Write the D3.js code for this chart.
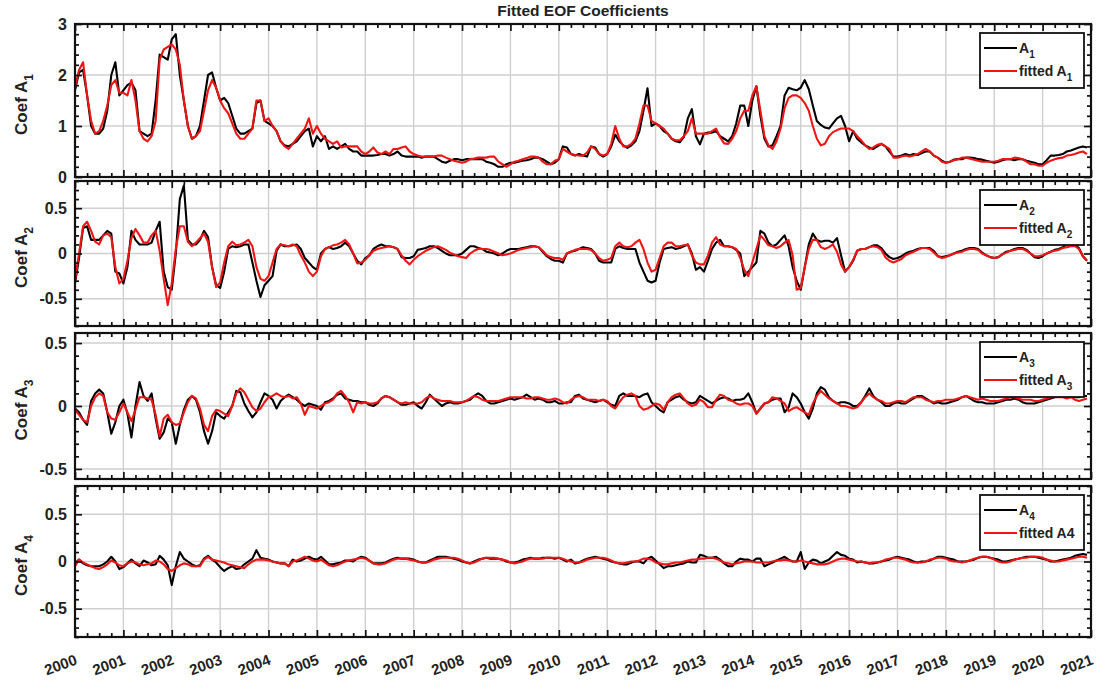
<!DOCTYPE html>
<html>
<head>
<meta charset="utf-8">
<script src="https://cdn.jsdelivr.net/npm/d3@7"></script>
<style>
  body { margin: 0; background: #fff; }
  text { font-family: "Liberation Sans", Arial, sans-serif; font-weight: bold; fill: #222; }
</style>
</head>
<body>
<svg id="chart" width="1101" height="682"></svg>
<script>
// monthly series, Jan 2000 .. Dec 2020
var startYear = 2000, endYear = 2021;
var yearLabels = d3.range(2000, 2022).map(String);

var a1 = [
  1.7, 2.05, 2.1, 1.6, 1.0, 0.85, 0.85, 0.95, 1.3, 2.0, 2.25, 1.6,
  1.7, 1.8, 1.85, 1.7, 0.9, 0.85, 0.8, 0.85, 1.5, 2.4, 2.35, 2.3,
  2.7, 2.8, 2.0, 1.5, 1.0, 0.75, 0.8, 1.0, 1.5, 2.0, 2.05, 1.75,
  1.5, 1.55, 1.45, 1.2, 0.95, 0.85, 0.85, 0.9, 0.95, 1.45, 1.5, 1.1,
  1.05, 1.0, 0.9, 0.7, 0.62, 0.6, 0.65, 0.7, 0.8, 0.9, 0.95, 0.6,
  0.8, 0.7, 0.8, 0.55, 0.6, 0.55, 0.6, 0.65, 0.55, 0.5, 0.5, 0.42,
  0.42, 0.42, 0.42, 0.43, 0.45, 0.45, 0.42, 0.45, 0.5, 0.42, 0.4, 0.4,
  0.4, 0.4, 0.38, 0.4, 0.4, 0.4, 0.35, 0.3, 0.28, 0.32, 0.35, 0.35,
  0.33, 0.35, 0.35, 0.35, 0.35, 0.35, 0.3, 0.28, 0.25, 0.2, 0.2, 0.25,
  0.28, 0.28, 0.3, 0.32, 0.33, 0.35, 0.38, 0.38, 0.35, 0.3, 0.25, 0.28,
  0.35, 0.6, 0.58, 0.45, 0.42, 0.45, 0.42, 0.4, 0.6, 0.58, 0.45, 0.4,
  0.45, 0.6, 0.83, 0.7, 0.62, 0.57, 0.62, 0.7, 0.9, 1.3, 1.74, 1.0,
  1.05, 1.0, 0.9, 0.85, 0.75, 0.7, 0.68, 0.78, 1.15, 1.33, 0.8, 0.64,
  0.85, 0.87, 0.87, 0.9, 0.8, 0.75, 0.7, 0.8, 1.05, 1.4, 1.4, 1.0,
  1.5, 1.78, 1.2, 0.75, 0.6, 0.62, 0.8, 1.0, 1.6, 1.75, 1.72, 1.7,
  1.75, 1.9, 1.72, 1.4, 1.1, 1.02, 0.97, 0.95, 1.05, 1.15, 1.2, 1.0,
  0.7, 0.9, 0.75, 0.68, 0.62, 0.58, 0.55, 0.6, 0.65, 0.6, 0.5, 0.4,
  0.4, 0.42, 0.45, 0.42, 0.45, 0.43, 0.47, 0.5, 0.5, 0.42, 0.38, 0.32,
  0.28, 0.3, 0.34, 0.35, 0.35, 0.38, 0.38, 0.37, 0.35, 0.34, 0.32, 0.3,
  0.28, 0.3, 0.33, 0.35, 0.35, 0.33, 0.35, 0.35, 0.32, 0.3, 0.28, 0.25,
  0.25, 0.33, 0.42, 0.42, 0.43, 0.45, 0.5, 0.52, 0.55, 0.58, 0.6, 0.58
];
var fitA1 = [
  1.75, 2.1, 2.25, 1.6, 1.1, 0.85, 0.9, 1.1, 1.4, 1.8, 1.9, 1.65,
  1.65, 1.6, 1.9, 1.5, 0.9, 0.75, 0.7, 0.8, 1.1, 2.3, 2.5, 2.55,
  2.6, 2.5, 2.2, 1.5, 1.0, 0.75, 0.8, 0.9, 1.3, 1.7, 1.9, 1.75,
  1.5, 1.35, 1.25, 1.05, 0.85, 0.75, 0.75, 0.85, 0.95, 1.5, 1.5, 1.1,
  1.15, 1.0, 0.9, 0.7, 0.6, 0.55, 0.65, 0.75, 0.85, 0.95, 1.15, 0.85,
  1.0, 0.85, 0.75, 0.7, 0.65, 0.7, 0.58, 0.6, 0.6, 0.6, 0.6, 0.5,
  0.45, 0.5, 0.58, 0.48, 0.45, 0.5, 0.45, 0.55, 0.55, 0.58, 0.6, 0.5,
  0.45, 0.42, 0.4, 0.4, 0.4, 0.4, 0.42, 0.42, 0.38, 0.35, 0.32, 0.3,
  0.28, 0.3, 0.35, 0.36, 0.38, 0.38, 0.38, 0.4, 0.4, 0.3, 0.25, 0.2,
  0.25, 0.3, 0.32, 0.35, 0.37, 0.4, 0.4, 0.38, 0.3, 0.25, 0.25, 0.32,
  0.35, 0.55, 0.5, 0.45, 0.43, 0.42, 0.42, 0.48, 0.6, 0.55, 0.45, 0.42,
  0.45, 0.65, 1.0, 0.75, 0.6, 0.6, 0.65, 0.75, 1.05, 1.4, 1.4, 1.1,
  1.05, 1.0, 0.95, 0.85, 0.75, 0.72, 0.72, 0.8, 0.9, 1.15, 0.85, 0.85,
  0.85, 0.85, 0.9, 0.95, 0.78, 0.66, 0.65, 0.75, 0.9, 1.15, 1.3, 1.3,
  1.6, 1.78, 1.3, 0.8, 0.62, 0.55, 0.7, 0.95, 1.35, 1.55, 1.6, 1.6,
  1.55, 1.45, 1.3, 1.0, 0.75, 0.62, 0.65, 0.8, 0.88, 0.92, 0.95, 0.95,
  0.95, 0.9, 0.8, 0.72, 0.62, 0.55, 0.58, 0.63, 0.65, 0.6, 0.55, 0.38,
  0.38, 0.4, 0.42, 0.4, 0.42, 0.45, 0.5, 0.55, 0.5, 0.42, 0.38, 0.3,
  0.28, 0.3, 0.33, 0.35, 0.38, 0.38, 0.36, 0.34, 0.32, 0.3, 0.3, 0.3,
  0.3, 0.32, 0.35, 0.35, 0.35, 0.38, 0.37, 0.35, 0.3, 0.25, 0.25, 0.22,
  0.22, 0.28, 0.32, 0.35, 0.37, 0.38, 0.42, 0.43, 0.45, 0.48, 0.5, 0.45
];

var a2 = [
  -0.33, -0.05, 0.28, 0.3, 0.15, 0.15, 0.15, 0.2, 0.25, 0.22, -0.2, -0.22,
  -0.33, -0.15, 0.25, 0.15, 0.1, 0.1, 0.1, 0.12, 0.25, 0.35, -0.2, -0.37,
  -0.4, 0.0, 0.6, 0.75, 0.15, 0.1, 0.1, 0.15, 0.25, 0.18, -0.15, -0.35,
  -0.38, -0.2, 0.05, 0.08, 0.07, 0.08, 0.1, 0.1, -0.1, -0.3, -0.48, -0.35,
  -0.3, -0.25, 0.03, 0.1, 0.08, 0.08, 0.09, 0.1, 0.05, -0.05, -0.1, -0.15,
  -0.18, 0.0, 0.05, 0.07, 0.05, 0.06, 0.08, 0.12, 0.08, 0.0, -0.08, -0.12,
  -0.05, -0.02, 0.05, 0.08, 0.1, 0.08, 0.08, 0.07, 0.05, -0.04, -0.05, -0.05,
  -0.03, 0.04, 0.05, 0.06, 0.08, 0.08, 0.06, 0.03, 0.0, -0.02, -0.02, -0.02,
  0.0, 0.04, 0.08, 0.08, 0.06, 0.05, 0.02, 0.01, 0.0, -0.02, 0.0, 0.03,
  0.05, 0.05, 0.05, 0.06, 0.07, 0.08, 0.08, 0.07, 0.02, -0.03, -0.06, -0.08,
  -0.08, -0.1, 0.0, 0.02, 0.03, 0.05, 0.07, 0.06, 0.05, 0.0, -0.08, -0.1,
  -0.1, -0.1, 0.05, 0.08, 0.06, 0.05, 0.05, 0.05, -0.1, -0.2, -0.3, -0.32,
  -0.3, -0.1, 0.05, 0.06, 0.07, 0.05, 0.06, 0.08, 0.1, 0.0, -0.18, -0.15,
  -0.2, -0.08, 0.05, 0.12, 0.15, 0.08, 0.08, 0.07, 0.04, 0.0, -0.25, -0.2,
  -0.15, -0.1, 0.25, 0.22, 0.12, 0.08, 0.1, 0.15, 0.2, 0.08, -0.15, -0.3,
  -0.4, -0.15, 0.1, 0.22, 0.15, 0.13, 0.14, 0.14, 0.12, 0.17, -0.02, -0.2,
  -0.15, -0.08, 0.03, 0.05, 0.05, 0.07, 0.09, 0.09, 0.06, 0.0, -0.04, -0.06,
  -0.05, -0.03, 0.0, 0.02, 0.03, 0.05, 0.06, 0.06, 0.06, 0.03, -0.03, -0.04,
  -0.03, -0.02, 0.0, 0.02, 0.03, 0.05, 0.06, 0.06, 0.05, 0.01, -0.02, -0.04,
  -0.05, -0.04, -0.01, 0.02, 0.03, 0.05, 0.06, 0.06, 0.04, 0.0, -0.04, -0.05,
  -0.03, 0.0, 0.02, 0.04, 0.05, 0.07, 0.1, 0.12, 0.1, 0.06, -0.03, -0.08
];
var fitA2 = [
  -0.3, 0.0, 0.3, 0.35, 0.25, 0.13, 0.1, 0.2, 0.22, 0.18, -0.15, -0.33,
  -0.28, -0.08, 0.17, 0.27, 0.2, 0.12, 0.12, 0.2, 0.25, 0.03, -0.28, -0.57,
  -0.33, 0.05, 0.3, 0.3, 0.13, 0.08, 0.12, 0.17, 0.22, 0.13, -0.15, -0.37,
  -0.32, -0.1, 0.08, 0.13, 0.09, 0.1, 0.12, 0.15, 0.08, -0.15, -0.28, -0.3,
  -0.25, -0.1, 0.05, 0.1, 0.09, 0.08, 0.1, 0.08, -0.02, -0.1, -0.2, -0.25,
  -0.2, -0.03, 0.05, 0.07, 0.09, 0.1, 0.12, 0.15, 0.1, 0.0, -0.11, -0.1,
  -0.07, -0.02, 0.03, 0.05, 0.06, 0.07, 0.08, 0.07, 0.05, -0.02, -0.08, -0.12,
  -0.07, -0.03, 0.0, 0.03, 0.05, 0.07, 0.08, 0.06, 0.04, 0.01, -0.01, -0.03,
  -0.04, -0.05, 0.0, 0.03, 0.05, 0.05, 0.05, 0.04, 0.02, 0.0, -0.02, -0.01,
  0.0, 0.02, 0.04, 0.05, 0.06, 0.07, 0.08, 0.07, 0.03, -0.02, -0.04, -0.05,
  -0.05, -0.07, 0.0, 0.02, 0.04, 0.05, 0.05, 0.05, 0.04, 0.0, -0.05, -0.08,
  -0.07, -0.05, 0.08, 0.12, 0.08, 0.07, 0.08, 0.12, 0.15, 0.05, -0.1, -0.2,
  -0.18, -0.05, 0.08, 0.12, 0.12, 0.08, 0.08, 0.09, 0.1, -0.02, -0.1, -0.12,
  -0.12, -0.02, 0.12, 0.18, 0.1, 0.08, 0.08, 0.07, 0.05, -0.05, -0.18, -0.25,
  -0.1, 0.05, 0.2, 0.15, 0.09, 0.08, 0.06, 0.08, 0.12, 0.15, -0.02, -0.4,
  -0.38, -0.15, 0.05, 0.15, 0.15, 0.07, 0.05, 0.07, 0.1, 0.02, -0.12, -0.2,
  -0.15, -0.07, 0.03, 0.05, 0.05, 0.07, 0.08, 0.07, 0.04, -0.04, -0.08, -0.1,
  -0.08, -0.06, -0.02, 0.0, 0.02, 0.04, 0.06, 0.06, 0.05, 0.01, -0.03, -0.05,
  -0.04, -0.02, 0.0, 0.01, 0.02, 0.04, 0.05, 0.05, 0.04, 0.0, -0.02, -0.04,
  -0.05, -0.04, -0.01, 0.01, 0.03, 0.04, 0.05, 0.05, 0.03, 0.0, -0.03, -0.03,
  -0.02, 0.0, 0.02, 0.03, 0.04, 0.06, 0.07, 0.08, 0.08, 0.05, -0.03, -0.08
];

var a3 = [
  -0.02, -0.05, -0.11, -0.15, 0.04, 0.1, 0.13, 0.1, -0.05, -0.22, -0.13, 0.0,
  0.05, -0.06, -0.25, 0.0, 0.19, 0.08, 0.04, 0.1, -0.1, -0.26, -0.21, -0.1,
  -0.13, -0.3, -0.15, -0.03, 0.05, 0.08, 0.05, -0.05, -0.2, -0.3, -0.2, -0.05,
  -0.08, -0.1, -0.05, 0.0, 0.12, 0.11, 0.02, -0.04, -0.09, -0.05, 0.03, 0.1,
  0.08, 0.05, -0.02, 0.04, 0.07, 0.09, 0.07, 0.05, 0.02, 0.0, 0.02, 0.01,
  0.0, -0.03, 0.03, 0.04, 0.06, 0.09, 0.1, 0.06, 0.05, 0.04, 0.04, 0.03,
  0.03, 0.01, 0.0, 0.02, 0.06, 0.08, 0.07, 0.05, 0.03, 0.01, 0.01, 0.02,
  0.03, 0.0, -0.02, 0.03, 0.09, 0.06, 0.03, 0.0, 0.02, 0.03, 0.02, 0.02,
  0.03, 0.04, 0.05, 0.08, 0.1, 0.08, 0.04, 0.02, 0.02, 0.03, 0.04, 0.05,
  0.06, 0.05, 0.06, 0.07, 0.09, 0.07, 0.05, 0.06, 0.05, 0.03, 0.03, 0.04,
  0.02, 0.02, 0.03, 0.03, 0.08, 0.09, 0.06, 0.05, 0.04, 0.03, 0.04, 0.05,
  0.03, 0.01, 0.0, 0.08, 0.1, 0.08, 0.08, 0.08, 0.07, 0.09, 0.1, 0.03,
  0.0, -0.03, -0.05, 0.03, 0.05, 0.07, 0.08, 0.05, 0.03, 0.02, 0.03, 0.08,
  0.06, 0.04, 0.02, 0.04, 0.06, 0.07, 0.06, 0.04, 0.05, 0.05, 0.06, 0.1,
  0.03, -0.06, -0.02, 0.02, 0.03, 0.05, 0.06, 0.06, -0.05, -0.01, 0.1, 0.07,
  0.02, -0.05, -0.1, -0.02, 0.1, 0.15, 0.13, 0.07, 0.04, 0.02, 0.03, 0.03,
  0.02, 0.0, 0.0, 0.03, 0.08, 0.14, 0.08, 0.05, 0.03, 0.0, 0.0, 0.02,
  0.03, 0.02, 0.02, 0.04, 0.06, 0.08, 0.08, 0.06, 0.04, 0.02, 0.03, 0.02,
  0.02, 0.03, 0.04, 0.05, 0.07, 0.08, 0.06, 0.04, 0.03, 0.03, 0.02, 0.02,
  0.02, 0.03, 0.04, 0.05, 0.05, 0.06, 0.05, 0.03, 0.02, 0.02, 0.02, 0.03,
  0.04, 0.05, 0.06, 0.07, 0.08, 0.08, 0.1, 0.09, 0.07, 0.07, 0.08, 0.08
];
var fitA3 = [
  -0.03, -0.07, -0.11, -0.13, 0.0, 0.07, 0.1, 0.08, -0.05, -0.1, -0.11, -0.05,
  0.02, -0.05, -0.12, -0.03, 0.07, 0.07, 0.06, 0.05, -0.07, -0.24, -0.1, -0.07,
  -0.13, -0.15, -0.14, -0.05, 0.03, 0.08, 0.06, -0.02, -0.15, -0.2, -0.08, -0.03,
  -0.04, -0.06, -0.08, 0.0, 0.1, 0.14, 0.11, 0.05, -0.01, -0.04, -0.02, 0.03,
  0.07, 0.08, 0.1, 0.08, 0.07, 0.08, 0.06, 0.07, 0.02, -0.07, 0.0, -0.01,
  -0.02, 0.0, 0.02, 0.03, 0.05, 0.1, 0.12, 0.08, 0.03, -0.05, 0.03, 0.02,
  0.03, 0.02, 0.02, 0.03, 0.06, 0.08, 0.07, 0.05, 0.03, 0.02, 0.03, 0.02,
  0.02, 0.02, 0.03, 0.06, 0.08, 0.06, 0.05, 0.04, 0.04, 0.04, 0.03, 0.03,
  0.03, 0.04, 0.06, 0.08, 0.07, 0.05, 0.04, 0.04, 0.04, 0.04, 0.05, 0.06,
  0.07, 0.07, 0.07, 0.07, 0.06, 0.06, 0.07, 0.07, 0.06, 0.05, 0.05, 0.06,
  0.05, 0.03, 0.02, 0.05, 0.07, 0.08, 0.07, 0.05, 0.05, 0.05, 0.04, 0.05,
  0.04, 0.0, -0.02, 0.03, 0.07, 0.09, 0.1, 0.08, 0.0, -0.03, -0.02, 0.0,
  0.02, 0.01, -0.03, 0.03, 0.07, 0.09, 0.1, 0.06, 0.02, 0.0, 0.01, 0.05,
  0.03, -0.01, -0.01, 0.05, 0.09, 0.08, 0.05, 0.04, 0.02, 0.01, 0.02, 0.02,
  0.0, -0.06, -0.02, 0.02, 0.03, 0.07, 0.06, 0.04, 0.02, -0.04, -0.02, -0.01,
  -0.03, -0.05, -0.07, 0.02, 0.08, 0.12, 0.09, 0.06, 0.04, 0.02, 0.0, 0.0,
  -0.01, -0.02, -0.01, 0.03, 0.07, 0.1, 0.07, 0.05, 0.04, 0.02, 0.02, 0.03,
  0.04, 0.04, 0.03, 0.05, 0.07, 0.07, 0.07, 0.05, 0.04, 0.03, 0.04, 0.04,
  0.05, 0.05, 0.05, 0.06, 0.07, 0.08, 0.07, 0.06, 0.05, 0.06, 0.05, 0.04,
  0.04, 0.04, 0.05, 0.06, 0.07, 0.07, 0.06, 0.05, 0.05, 0.05, 0.04, 0.04,
  0.05, 0.06, 0.07, 0.07, 0.07, 0.07, 0.06, 0.07, 0.05, 0.04, 0.05, 0.06
];

var a4 = [
  -0.02, 0.02, -0.02, -0.04, -0.05, -0.05, -0.05, -0.03, 0.0, 0.05, 0.0, -0.08,
  -0.06, -0.02, 0.02, -0.02, -0.05, 0.01, -0.01, -0.04, -0.03, 0.06, 0.02, -0.04,
  -0.25, -0.05, 0.1, 0.03, 0.0, -0.03, -0.05, -0.04, 0.03, 0.06, 0.02, -0.01,
  -0.06, -0.1, -0.07, -0.05, -0.08, -0.07, -0.03, 0.0, 0.03, 0.12, 0.04, 0.03,
  0.02, 0.0, -0.01, -0.02, -0.02, -0.05, 0.02, 0.0, 0.01, 0.03, 0.05, 0.03,
  0.02, 0.05, 0.01, -0.03, -0.03, -0.02, -0.01, 0.01, 0.01, 0.0, 0.03, 0.05,
  0.04, 0.01, -0.02, -0.02, -0.02, -0.01, 0.01, 0.03, 0.04, 0.03, 0.03, 0.03,
  0.02, 0.0, -0.01, -0.01, 0.01, 0.03, 0.05, 0.05, 0.05, 0.04, 0.03, 0.02,
  0.0, -0.01, -0.02, 0.0, 0.02, 0.03, 0.04, 0.03, 0.03, 0.03, 0.02, 0.0,
  -0.01, -0.01, 0.0, 0.02, 0.03, 0.04, 0.03, 0.03, 0.04, 0.04, 0.04, 0.03,
  0.04, 0.02, 0.0, 0.02, -0.02, -0.01, 0.01, 0.03, 0.04, 0.05, 0.04, 0.03,
  0.02, 0.0, -0.01, -0.02, -0.03, -0.03, -0.01, 0.0, 0.0, -0.02, 0.03, 0.05,
  0.01, -0.03, -0.07, -0.05, -0.05, -0.04, -0.03, -0.02, 0.0, -0.01, -0.01, 0.07,
  0.06, 0.04, 0.04, 0.05, 0.02, -0.02, -0.05, -0.05, 0.0, 0.03, 0.02, 0.02,
  0.0, 0.03, 0.03, -0.05, -0.03, -0.01, 0.01, 0.03, 0.05, 0.02, 0.0, 0.0,
  0.1, -0.08, -0.01, 0.02, 0.01, -0.02, 0.0, 0.02, 0.06, 0.1, 0.07, 0.06,
  0.03, 0.02, -0.01, 0.0, -0.01, -0.02, -0.02, -0.01, 0.0, 0.01, 0.02, 0.04,
  0.05, 0.04, 0.03, 0.02, 0.0, -0.01, 0.0, 0.0, 0.01, 0.03, 0.05, 0.05,
  0.04, 0.03, 0.02, 0.0, 0.0, 0.0, 0.01, 0.02, 0.04, 0.05, 0.05, 0.04,
  0.03, 0.02, 0.0, 0.0, 0.01, 0.02, 0.03, 0.04, 0.05, 0.05, 0.05, 0.04,
  0.03, 0.02, 0.0, 0.0, 0.01, 0.02, 0.03, 0.04, 0.06, 0.07, 0.08, 0.07
];
var fitA4 = [
  -0.05, 0.02, -0.01, -0.03, -0.05, -0.07, -0.08, -0.06, -0.03, 0.01, -0.01, -0.04,
  -0.05, -0.02, 0.0, -0.01, -0.03, -0.04, -0.03, -0.02, 0.01, 0.0, -0.03, -0.08,
  -0.1, -0.07, -0.04, -0.02, -0.03, -0.05, -0.05, -0.05, 0.02, 0.05, 0.02, 0.01,
  0.0, -0.01, -0.03, -0.04, -0.05, -0.06, -0.07, -0.03, 0.0, 0.02, 0.02, 0.02,
  0.01, 0.0, -0.01, -0.02, -0.02, -0.05, 0.0, 0.01, 0.03, 0.05, 0.03, 0.01,
  0.0, 0.02, -0.01, -0.04, -0.05, -0.04, -0.02, 0.0, 0.01, 0.02, 0.03, 0.04,
  0.03, 0.01, -0.02, -0.03, -0.03, -0.02, 0.0, 0.02, 0.03, 0.03, 0.03, 0.02,
  0.01, 0.0, -0.01, -0.01, 0.0, 0.02, 0.03, 0.04, 0.04, 0.04, 0.04, 0.03,
  0.01, -0.01, -0.02, -0.01, 0.01, 0.03, 0.04, 0.04, 0.04, 0.03, 0.02, 0.01,
  -0.01, -0.02, -0.01, 0.0, 0.02, 0.03, 0.03, 0.03, 0.03, 0.04, 0.04, 0.04,
  0.04, 0.03, 0.01, 0.0, -0.01, -0.01, 0.0, 0.02, 0.03, 0.04, 0.04, 0.04,
  0.03, 0.01, -0.01, -0.02, -0.02, -0.01, 0.0, 0.0, 0.01, 0.03, 0.03, 0.02,
  -0.01, -0.02, -0.03, -0.03, -0.02, -0.01, -0.01, 0.0, 0.01, 0.02, 0.02, 0.03,
  0.03, 0.04, 0.04, 0.03, 0.01, -0.01, -0.02, -0.03, -0.02, -0.01, 0.0, 0.0,
  0.0, -0.01, -0.01, -0.01, -0.01, 0.0, 0.01, 0.01, 0.02, 0.01, 0.0, 0.0,
  0.01, 0.0, -0.01, -0.02, -0.03, -0.03, -0.03, -0.02, 0.0, 0.02, 0.03, 0.03,
  0.02, 0.01, 0.0, 0.0, -0.01, -0.02, -0.01, -0.01, 0.0, 0.02, 0.03, 0.04,
  0.04, 0.03, 0.02, 0.0, -0.01, -0.01, -0.01, 0.0, 0.02, 0.03, 0.04, 0.04,
  0.03, 0.01, 0.0, 0.0, -0.01, 0.0, 0.01, 0.03, 0.04, 0.05, 0.05, 0.04,
  0.02, 0.0, -0.01, -0.01, 0.0, 0.02, 0.03, 0.04, 0.04, 0.05, 0.05, 0.05,
  0.04, 0.02, 0.01, 0.0, 0.0, 0.01, 0.02, 0.03, 0.04, 0.05, 0.05, 0.04
];

var panels = [
  { obs: a1, fit: fitA1, n: "1", fitSub: true,  top: 24,  bottom: 177, domain: [0, 3],        major: [0, 1, 2, 3],    minorStep: 0.2 },
  { obs: a2, fit: fitA2, n: "2", fitSub: true,  top: 181, bottom: 326, domain: [-0.8, 0.8],   major: [-0.5, 0, 0.5],  minorStep: 0.1 },
  { obs: a3, fit: fitA3, n: "3", fitSub: true,  top: 333, bottom: 479, domain: [-0.58, 0.58], major: [-0.5, 0, 0.5],  minorStep: 0.1 },
  { obs: a4, fit: fitA4, n: "4", fitSub: false, top: 486, bottom: 637, domain: [-0.8, 0.8],   major: [-0.5, 0, 0.5],  minorStep: 0.1 }
];

var left = 75, right = 1091;
var svg = d3.select("#chart");
svg.append("rect").attr("width", 1101).attr("height", 682).attr("fill", "#fff");

var x = d3.scaleLinear().domain([startYear, endYear]).range([left, right]);
var years = yearLabels.map(Number);
var quarters = d3.range(startYear, endYear + 0.001, 0.25).filter(d => d % 1 !== 0);
var tOf = i => startYear + i / 12;

svg.append("text")
  .attr("x", (left + right) / 2).attr("y", 16)
  .attr("text-anchor", "middle").style("font-size", "15.5px")
  .text("Fitted EOF Coefficients");

panels.forEach(function(p, k) {
  var y = d3.scaleLinear().domain(p.domain).range([p.bottom, p.top]);
  var g = svg.append("g");
  var minor = d3.range(Math.ceil(p.domain[0] / p.minorStep) * p.minorStep, p.domain[1] + 1e-9, p.minorStep)
    .map(v => Math.round(v * 100) / 100)
    .filter(v => !p.major.some(m => Math.abs(m - v) < 1e-6));

  // grid
  g.selectAll(".gx").data(years.slice(1, -1)).enter().append("line")
    .attr("x1", d => x(d)).attr("x2", d => x(d))
    .attr("y1", p.top).attr("y2", p.bottom)
    .attr("stroke", "#cfcfcf").attr("stroke-width", 1.4);
  g.selectAll(".gy").data(p.major.filter(v => v > p.domain[0] && v < p.domain[1])).enter().append("line")
    .attr("x1", left).attr("x2", right)
    .attr("y1", d => y(d)).attr("y2", d => y(d))
    .attr("stroke", "#cfcfcf").attr("stroke-width", 1.4);

  // series
  var line = d3.line().x((d, i) => x(tOf(i))).y(d => y(d));
  g.append("path").datum(p.obs).attr("d", line)
    .attr("fill", "none").attr("stroke", "#000").attr("stroke-width", 2.1).attr("stroke-linejoin", "round");
  g.append("path").datum(p.fit).attr("d", line)
    .attr("fill", "none").attr("stroke", "#f01515").attr("stroke-width", 2.1).attr("stroke-linejoin", "round");

  // axes: ticks point inward
  var axL = g.append("g").attr("transform", `translate(${left},0)`)
    .call(d3.axisLeft(y).tickValues(p.major).tickSize(-7).tickPadding(8).tickFormat(d => String(d)));
  axL.selectAll("text").style("font-size", "16px").attr("fill", "#222");
  g.append("g").attr("transform", `translate(${left},0)`)
    .call(d3.axisLeft(y).tickValues(minor).tickSize(-4).tickFormat(""));
  g.append("g").attr("transform", `translate(${right},0)`)
    .call(d3.axisRight(y).tickValues(p.major).tickSize(-7).tickFormat(""));
  g.append("g").attr("transform", `translate(${right},0)`)
    .call(d3.axisRight(y).tickValues(minor).tickSize(-4).tickFormat(""));
  g.append("g").attr("transform", `translate(0,${p.top})`)
    .call(d3.axisTop(x).tickValues(years).tickSize(-7).tickFormat(""));
  g.append("g").attr("transform", `translate(0,${p.top})`)
    .call(d3.axisTop(x).tickValues(quarters).tickSize(-4).tickFormat(""));
  g.append("g").attr("transform", `translate(0,${p.bottom})`)
    .call(d3.axisBottom(x).tickValues(years).tickSize(-7).tickFormat(""));
  g.append("g").attr("transform", `translate(0,${p.bottom})`)
    .call(d3.axisBottom(x).tickValues(quarters).tickSize(-4).tickFormat(""));
  g.selectAll(".domain").remove();
  g.selectAll(".tick line").attr("stroke", "#111").attr("stroke-width", 1.7);

  g.append("rect")
    .attr("x", left).attr("y", p.top)
    .attr("width", right - left).attr("height", p.bottom - p.top)
    .attr("fill", "none").attr("stroke", "#111").attr("stroke-width", 2.2);

  // y label
  var yl = g.append("text")
    .attr("transform", `translate(27,${(p.top + p.bottom) / 2 + 4}) rotate(-90)`)
    .attr("text-anchor", "middle").style("font-size", "17px");
  yl.append("tspan").text("Coef A");
  yl.append("tspan").attr("dy", 6).style("font-size", "12px").text(p.n);

  // legend
  var lx = 980, ly = p.top + 9;
  var lg = g.append("g");
  lg.append("rect").attr("x", lx).attr("y", ly).attr("width", 104).attr("height", 55)
    .attr("fill", "#fff").attr("stroke", "#111").attr("stroke-width", 1.8);
  [{ c: "#000", lbl: "A", sub: p.n }, { c: "#f01515", lbl: "fitted A", sub: p.fitSub ? p.n : null }]
    .forEach(function(e, j) {
      var yy = ly + 15 + j * 23;
      lg.append("line").attr("x1", lx + 4).attr("x2", lx + 37).attr("y1", yy).attr("y2", yy)
        .attr("stroke", e.c).attr("stroke-width", 2.1);
      var t = lg.append("text").attr("x", lx + 39).attr("y", yy + 5).style("font-size", "14px");
      if (e.sub) {
        t.append("tspan").text(e.lbl);
        t.append("tspan").attr("dy", 5).style("font-size", "10px").text(e.sub);
      } else {
        t.text(e.lbl + p.n);
      }
    });

  // rotated year labels on the last panel
  if (k === panels.length - 1) {
    g.selectAll(".yr").data(yearLabels).enter().append("text")
      .attr("transform", d => `translate(${x(+d) + 3},${p.bottom + 27}) rotate(-20)`)
      .attr("text-anchor", "end").style("font-size", "15px")
      .text(d => d);
  }
});
</script>
</body>
</html>
